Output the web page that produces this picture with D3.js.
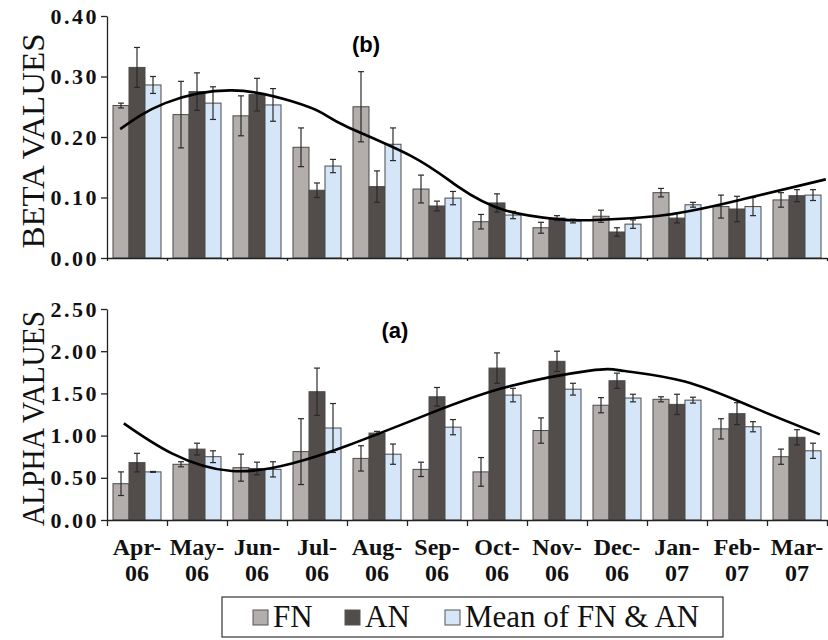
<!DOCTYPE html>
<meta charset="utf-8">
<script src="https://d3js.org/d3.v7.min.js"></script>
<style>
  body { margin: 0; background: #fff; }
</style>
<div id="chart"></div>
<script>

// categories
var months = ["Apr-", "May-", "Jun-", "Jul-", "Aug-", "Sep-", "Oct-", "Nov-", "Dec-", "Jan-", "Feb-", "Mar-"];
var years  = ["06", "06", "06", "06", "06", "06", "06", "06", "06", "07", "07", "07"];
var series = ["FN", "AN", "Mean of FN & AN"];

// (b) beta values
var betaFN      = [0.252, 0.237, 0.235, 0.183, 0.250, 0.114, 0.060, 0.050, 0.069, 0.108, 0.085, 0.096];
var betaFNErr   = [0.004, 0.055, 0.033, 0.032, 0.058, 0.023, 0.012, 0.009, 0.010, 0.007, 0.019, 0.012];
var betaAN      = [0.315, 0.275, 0.270, 0.112, 0.118, 0.086, 0.091, 0.066, 0.043, 0.066, 0.081, 0.103];
var betaANErr   = [0.033, 0.031, 0.027, 0.012, 0.026, 0.008, 0.015, 0.004, 0.007, 0.008, 0.021, 0.010];
var betaMean    = [0.286, 0.256, 0.253, 0.152, 0.188, 0.099, 0.071, 0.061, 0.056, 0.088, 0.085, 0.104];
var betaMeanErr = [0.014, 0.027, 0.027, 0.011, 0.027, 0.011, 0.006, 0.003, 0.007, 0.004, 0.015, 0.009];
// fitted curve, [month position, value]
var betaCurve = [[0.22, 0.213], [0.97, 0.256], [2.08, 0.277], [3.08, 0.259], [3.58, 0.240], [4.0, 0.217],
                 [5.08, 0.168], [5.85, 0.118], [6.63, 0.079], [7.52, 0.064], [8.05, 0.0625], [9.3, 0.071],
                 [10.63, 0.098], [11.98, 0.130]];
var betaTicks = [0, 0.1, 0.2, 0.3, 0.4];

// (a) alpha values
var alphaFN      = [0.43, 0.66, 0.62, 0.81, 0.73, 0.60, 0.57, 1.06, 1.36, 1.43, 1.08, 0.75];
var alphaFNErr   = [0.14, 0.03, 0.16, 0.39, 0.15, 0.085, 0.17, 0.15, 0.09, 0.03, 0.12, 0.09];
var alphaAN      = [0.68, 0.84, 0.61, 1.52, 1.03, 1.46, 1.80, 1.88, 1.65, 1.37, 1.26, 0.98];
var alphaANErr   = [0.11, 0.07, 0.075, 0.28, 0.02, 0.11, 0.18, 0.12, 0.09, 0.12, 0.13, 0.09];
var alphaMean    = [0.57, 0.75, 0.60, 1.09, 0.78, 1.10, 1.48, 1.55, 1.445, 1.42, 1.105, 0.82];
var alphaMeanErr = [0.005, 0.07, 0.09, 0.29, 0.12, 0.09, 0.08, 0.07, 0.045, 0.035, 0.06, 0.09];
var alphaCurve = [[0.28, 1.145], [1.08, 0.79], [2.08, 0.58], [3.08, 0.67], [4.0, 0.88], [5.3, 1.24],
                  [6.63, 1.57], [8.05, 1.77], [8.63, 1.765], [9.63, 1.64], [10.75, 1.34], [11.88, 1.015]];
var alphaTicks = [0, 0.5, 1, 1.5, 2, 2.5];

var colors = ["#b3adab", "#524c4b", "#d4e6f8"];

var serif = "'Liberation Serif', 'Times New Roman', serif";
var W = 828, H = 640;
var left = 107, right = 827;

var svg = d3.select("#chart").append("svg")
    .attr("width", W)
    .attr("height", H)
    .style("font-family", serif);

// x scales shared by both panels
var x = d3.scaleBand()
    .domain(months)
    .range([left, right])
    .paddingInner(0.2)
    .paddingOuter(0.1);
var xSub = d3.scaleBand()
    .domain(series)
    .range([0, x.bandwidth()]);
var xPos = d3.scaleLinear().domain([0, 12]).range([left, right]);

var color = d3.scaleOrdinal().domain(series).range(colors);

function drawPanel(opts) {
  var y = d3.scaleLinear().domain(opts.domain).range([opts.bottom, opts.top]);
  var g = svg.append("g");

  // y axis
  var yAxis = g.append("g")
    .attr("transform", "translate(" + left + ",0)")
    .call(d3.axisLeft(y).tickValues(opts.ticks).tickFormat(d3.format(".2f")).tickSize(6).tickSizeOuter(0));
  yAxis.attr("font-family", serif);
  yAxis.selectAll("text")
    .attr("font-family", serif)
    .attr("font-weight", "bold")
    .attr("font-size", 22)
    .attr("letter-spacing", 2.5)
    .attr("fill", "#111")
    .attr("x", -8);
  yAxis.selectAll("line, path").attr("stroke", "#222").attr("stroke-width", 1.3);

  // y title
  g.append("text")
    .attr("transform", "translate(44," + ((opts.top + opts.bottom) / 2 + 4) + ") rotate(-90)")
    .attr("text-anchor", "middle")
    .attr("font-size", 32)
    .attr("textLength", 215)
    .attr("lengthAdjust", "spacingAndGlyphs")
    .attr("fill", "#111")
    .text(opts.title);

  // bars
  var rows = months.map(function(m, i) {
    return {
      month: m,
      vals: [
        {key: series[0], v: opts.fn[i], e: opts.fnErr[i]},
        {key: series[1], v: opts.an[i], e: opts.anErr[i]},
        {key: series[2], v: opts.mean[i], e: opts.meanErr[i]}
      ]
    };
  });

  var groups = g.append("g").selectAll("g")
    .data(rows)
    .enter().append("g")
      .attr("transform", function(d) { return "translate(" + x(d.month) + ",0)"; });

  groups.selectAll("rect")
    .data(function(d) { return d.vals; })
    .enter().append("rect")
      .attr("x", function(d) { return xSub(d.key); })
      .attr("y", function(d) { return y(d.v); })
      .attr("width", xSub.bandwidth())
      .attr("height", function(d) { return y(0) - y(d.v); })
      .attr("fill", function(d) { return color(d.key); })
      .attr("stroke", "#4a4a4a")
      .attr("stroke-width", 1);

  // error bars
  var err = groups.selectAll("g.err")
    .data(function(d) { return d.vals; })
    .enter().append("g")
      .attr("class", "err")
      .attr("stroke", "#2a2a2a")
      .attr("stroke-width", 1.2);
  err.append("line")
    .attr("x1", function(d) { return xSub(d.key) + xSub.bandwidth() / 2; })
    .attr("x2", function(d) { return xSub(d.key) + xSub.bandwidth() / 2; })
    .attr("y1", function(d) { return y(d.v + d.e); })
    .attr("y2", function(d) { return y(d.v - d.e); });
  [1, -1].forEach(function(s) {
    err.append("line")
      .attr("x1", function(d) { return xSub(d.key) + xSub.bandwidth() / 2 - 3; })
      .attr("x2", function(d) { return xSub(d.key) + xSub.bandwidth() / 2 + 3; })
      .attr("y1", function(d) { return y(d.v + s * d.e); })
      .attr("y2", function(d) { return y(d.v + s * d.e); });
  });

  // x axis line with ticks at month boundaries
  var xAxis = g.append("g")
    .attr("transform", "translate(0," + y(0) + ")")
    .call(d3.axisBottom(xPos).tickValues(d3.range(13)).tickFormat("").tickSize(opts.xTick).tickSizeOuter(0));
  xAxis.selectAll("line, path").attr("stroke", "#222").attr("stroke-width", 1.3);

  // fitted curve
  var line = d3.line()
    .x(function(d) { return xPos(d[0]); })
    .y(function(d) { return y(d[1]); })
    .curve(d3.curveNatural);
  g.append("path")
    .datum(opts.curve)
    .attr("d", line)
    .attr("fill", "none")
    .attr("stroke", "#000")
    .attr("stroke-width", 2.6);

  // panel label
  g.append("text")
    .attr("x", opts.labelX)
    .attr("y", opts.labelY)
    .attr("text-anchor", "middle")
    .attr("font-family", "'Liberation Sans', Arial, sans-serif")
    .attr("font-weight", "bold")
    .attr("font-size", 22)
    .text(opts.label);

  return y;
}

drawPanel({
  domain: [0, 0.4], ticks: betaTicks, top: 16, bottom: 258,
  fn: betaFN, fnErr: betaFNErr, an: betaAN, anErr: betaANErr, mean: betaMean, meanErr: betaMeanErr,
  curve: betaCurve, title: "BETA VALUES", label: "(b)", labelX: 366, labelY: 52, xTick: 3
});

drawPanel({
  domain: [0, 2.5], ticks: alphaTicks, top: 309, bottom: 520,
  fn: alphaFN, fnErr: alphaFNErr, an: alphaAN, anErr: alphaANErr, mean: alphaMean, meanErr: alphaMeanErr,
  curve: alphaCurve, title: "ALPHA VALUES", label: "(a)", labelX: 395, labelY: 338, xTick: 6
});

// month labels
var labels = svg.append("g").selectAll("text")
  .data(months)
  .enter().append("text")
    .attr("x", function(d) { return x(d) + x.bandwidth() / 2; })
    .attr("text-anchor", "middle")
    .attr("font-family", serif)
    .attr("font-weight", "bold")
    .attr("font-size", 24)
    .attr("fill", "#111");
labels.append("tspan")
  .attr("y", 555)
  .text(function(d) { return d; });
labels.append("tspan")
  .attr("x", function(d) { return x(d) + x.bandwidth() / 2; })
  .attr("y", 581)
  .text(function(d, i) { return years[i]; });

// legend
var legend = svg.append("g");
legend.append("rect")
  .attr("x", 222).attr("y", 597)
  .attr("width", 501).attr("height", 40)
  .attr("fill", "#fff")
  .attr("stroke", "#333")
  .attr("stroke-width", 1.2);

var legendX = [253, 345, 445];
var items = legend.selectAll("g.item")
  .data(series)
  .enter().append("g")
    .attr("class", "item")
    .attr("transform", function(d, i) { return "translate(" + legendX[i] + ",610)"; });
items.append("rect")
  .attr("width", 15).attr("height", 15)
  .attr("fill", function(d) { return color(d); })
  .attr("stroke", "#555")
  .attr("stroke-width", 1);
items.append("text")
  .attr("x", 20)
  .attr("y", 17)
  .attr("font-family", serif)
  .attr("font-size", 31)
  .attr("fill", "#111")
  .text(function(d) { return d; });

</script>
